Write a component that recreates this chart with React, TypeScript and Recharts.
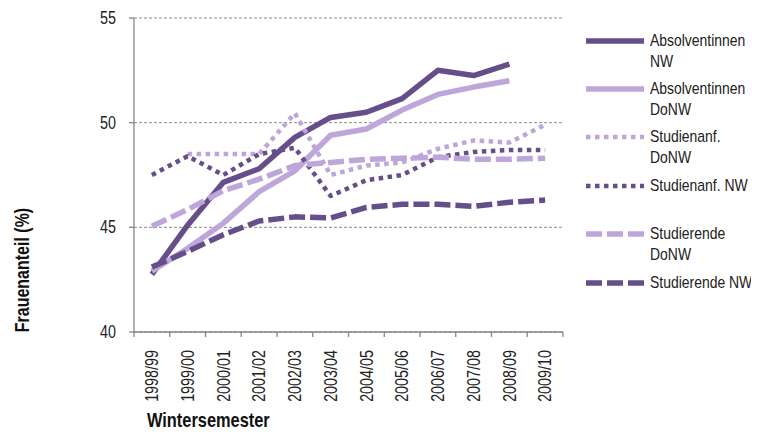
import React from 'react'
import {
  CartesianGrid,
  Label,
  Legend,
  Line,
  LineChart,
  XAxis,
  YAxis,
} from 'recharts'

const CATEGORIES = [
  '1998/99',
  '1999/00',
  '2000/01',
  '2001/02',
  '2002/03',
  '2003/04',
  '2004/05',
  '2005/06',
  '2006/07',
  '2007/08',
  '2008/09',
  '2009/10',
]

const ABS_NW = [42.75, 45.1, 47.15, 47.8, 49.3, 50.25, 50.5, 51.15, 52.5, 52.25, 52.8, null]
const ABS_DONW = [42.9, 44.0, 45.2, 46.7, 47.7, 49.4, 49.7, 50.6, 51.35, 51.7, 52.0, null]
const ANF_DONW = [null, 48.5, 48.5, 48.5, 50.45, 47.5, 47.95, 48.1, 48.75, 49.15, 49.05, 49.9]
const ANF_NW = [47.5, 48.4, 47.5, 48.5, 48.8, 46.5, 47.25, 47.5, 48.35, 48.6, 48.7, 48.7]
const STUD_DONW = [45.05, 45.85, 46.75, 47.3, 47.95, 48.1, 48.25, 48.3, 48.35, 48.25, 48.25, 48.3]
const STUD_NW = [43.1, 43.85, 44.65, 45.3, 45.5, 45.45, 45.95, 46.1, 46.1, 46.0, 46.2, 46.3]

const Y_TICKS = [40, 45, 50, 55]

const DARK = '#664e8a'
const LIGHT = '#bea6da'
const AXIS = '#868686'
const FONT = '"Liberation Sans", Arial, sans-serif'
// no narrow font installed: squeeze Liberation Sans to look like Arial Narrow
const NARROW = 0.82
const TEXT_SIZE = 17.5
const LEGEND_SIZE = 17

const SERIES = [
  { key: 'absNw', name: 'Absolventinnen NW', values: ABS_NW, color: DARK, dash: undefined, width: 5.5 },
  { key: 'absDonw', name: 'Absolventinnen DoNW', values: ABS_DONW, color: LIGHT, dash: undefined, width: 5.5 },
  { key: 'anfDonw', name: 'Studienanf. DoNW', values: ANF_DONW, color: LIGHT, dash: '4.5 4.5', width: 4.5 },
  { key: 'anfNw', name: 'Studienanf. NW', values: ANF_NW, color: DARK, dash: '4.5 4.5', width: 4.5 },
  { key: 'studDonw', name: 'Studierende DoNW', values: STUD_DONW, color: LIGHT, dash: '16 5', width: 5.5 },
  { key: 'studNw', name: 'Studierende NW', values: STUD_NW, color: DARK, dash: '16 5', width: 5.5 },
]

const data = CATEGORIES.map((cat, i) => {
  const row: Record<string, number | string | null> = { idx: i, cat }
  SERIES.forEach((s) => {
    row[s.key] = s.values[i]
  })
  return row
})

// boundaries between categories carry the tick marks, labels sit half a band right
const BOUNDARIES = [...CATEGORIES.map((_, i) => i - 0.5), CATEGORIES.length - 0.5]

const W = 751
const H = 424
const PLOT_LEFT = 126
const PLOT_RIGHT = 196
const HALF_BAND = (W - PLOT_LEFT - PLOT_RIGHT) / CATEGORIES.length / 2

function XTick(props: any) {
  const { x, y, payload } = props
  const i = Math.round(payload.value + 0.5)
  if (i < 0 || i >= CATEGORIES.length) return null
  return (
    <text
      transform={`translate(${x + HALF_BAND}, ${y + 11}) rotate(-90) scale(${NARROW}, 1)`}
      textAnchor="end"
      dy="0.35em"
      fontSize={TEXT_SIZE}
      fill="#222"
    >
      {CATEGORIES[i]}
    </text>
  )
}

function YTick(props: any) {
  const { x, y, payload } = props
  return (
    <text
      transform={`translate(${x}, ${y}) scale(${NARROW}, 1)`}
      textAnchor="end"
      dy="0.35em"
      fontSize={TEXT_SIZE}
      fill="#222"
    >
      {payload.value}
    </text>
  )
}

function LegendBox() {
  return (
    <div style={{ position: 'relative', width: 172, height: 300, fontFamily: FONT }}>
      {SERIES.map((s, k) => (
        <div
          key={s.key}
          style={{ position: 'absolute', left: 0, top: k * 48.4, height: 48 }}
        >
          <svg width={58} height={10} style={{ position: 'absolute', left: 0, top: 5.5 }}>
            <line
              x1={0}
              x2={58}
              y1={5}
              y2={5}
              stroke={s.color}
              strokeWidth={s.width}
              strokeDasharray={s.dash}
            />
          </svg>
          <div
            style={{
              position: 'absolute',
              left: 64,
              top: -0.5,
              width: 132,
              fontSize: LEGEND_SIZE,
              lineHeight: '21px',
              color: '#222',
              transform: `scaleX(${NARROW})`,
              transformOrigin: '0 0',
            }}
          >
            {s.name}
          </div>
        </div>
      ))}
    </div>
  )
}

export default function App() {
  return (
    <div style={{ width: W, height: H, fontFamily: FONT, overflow: 'hidden' }}>
      <LineChart
        width={W}
        height={H}
        data={data}
        margin={{ top: 10, right: PLOT_RIGHT, left: 0, bottom: 0 }}
      >
        <CartesianGrid vertical={false} stroke="#8a8a8a" strokeDasharray="3 2" />
        <XAxis
          type="number"
          dataKey="idx"
          domain={[-0.5, CATEGORIES.length - 0.5]}
          ticks={BOUNDARIES}
          interval={0}
          height={100}
          tickSize={5}
          tick={<XTick />}
          axisLine={{ stroke: AXIS, strokeWidth: 1.3 }}
          tickLine={{ stroke: AXIS, strokeWidth: 1.3 }}
        >
          <Label
            content={() => (
              <text
                transform={`translate(139, 419) scale(${NARROW}, 1)`}
                fontSize={20}
                fontWeight="bold"
                fill="#111"
              >
                Wintersemester
              </text>
            )}
          />
        </XAxis>
        <YAxis
          domain={[40, 55]}
          ticks={Y_TICKS}
          width={PLOT_LEFT}
          tickSize={5}
          tickMargin={13}
          tick={<YTick />}
          axisLine={{ stroke: AXIS, strokeWidth: 1.3 }}
          tickLine={{ stroke: AXIS, strokeWidth: 1.3 }}
        >
          <Label
            content={() => (
              <text
                transform={`translate(14, 262) rotate(-90) scale(${NARROW}, 1)`}
                textAnchor="middle"
                dy="0.35em"
                fontSize={19.5}
                fontWeight="bold"
                fill="#111"
              >
                Frauenanteil (%)
              </text>
            )}
          />
        </YAxis>
        <Legend
          layout="vertical"
          align="center"
          verticalAlign="middle"
          content={() => <LegendBox />}
          wrapperStyle={{ left: 578, top: 22, width: 172, height: 300 }}
        />
        {SERIES.map((s) => (
          <Line
            key={s.key}
            type="linear"
            dataKey={s.key}
            name={s.name}
            stroke={s.color}
            strokeWidth={s.width}
            strokeDasharray={s.dash}
            strokeLinejoin="round"
            dot={false}
            activeDot={false}
            isAnimationActive={false}
          />
        ))}
      </LineChart>
    </div>
  )
}
